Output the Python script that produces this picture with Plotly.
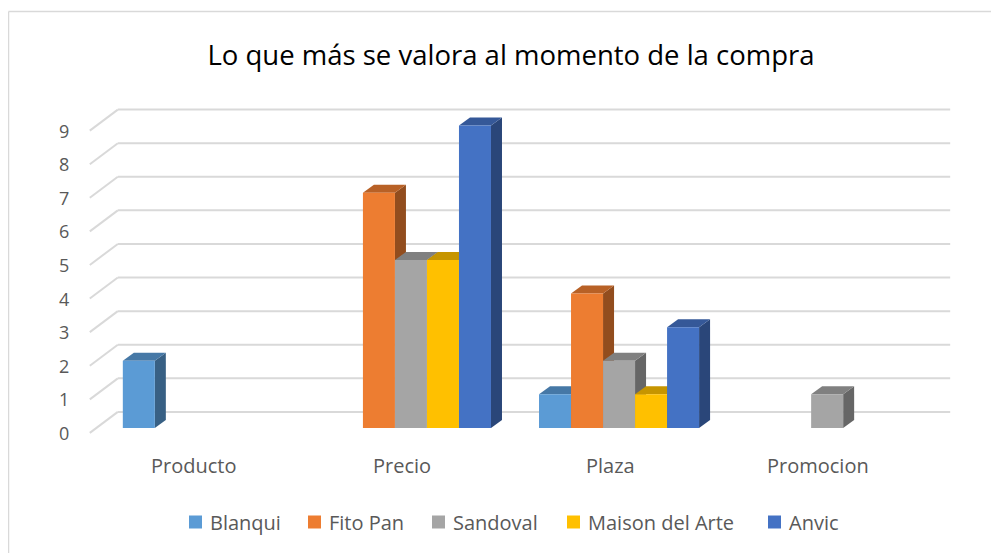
import plotly.graph_objects as go

categories = ["Producto", "Precio", "Plaza", "Promocion"]
series_names = ["Blanqui", "Fito Pan", "Sandoval", "Maison del Arte", "Anvic"]
blanqui = [2, None, 1, None]
fito_pan = [None, 7, 4, None]
sandoval = [None, 5, 2, 1]
maison = [None, 5, 1, None]
anvic = [None, 9, 3, None]
y_ticks = [0, 1, 2, 3, 4, 5, 6, 7, 8, 9]

series_values = [blanqui, fito_pan, sandoval, maison, anvic]
colors = ["#5B9BD5", "#ED7D31", "#A5A5A5", "#FFC000", "#4472C4"]


def shade(hex_color, f):
    h = hex_color.lstrip("#")
    r, g, b = (int(h[i:i + 2], 16) for i in (0, 2, 4))
    return "rgb(%d,%d,%d)" % (r * f, g * f, b * f)


OFF = 8                      # page body margin
W, H = 1000, 553
L, PW = 70, 874
T, PH = 84, 346
R = W - L - PW
B = H - T - PH
x_min, x_max = -0.6, 3.6
y_min, y_max = -0.3, 10.0
px_x = PW / (x_max - x_min)
px_y = PH / (y_max - y_min)


def xp(sx):
    return (sx - OFF - L) / PW


def yp(sy):
    return 1 - (sy - OFF - T) / PH


bargap = 0.2308
bw = (1 - bargap) / 5
dx_bar, dy_bar = 11 / px_x, 8 / px_y
dx_wall, dy_wall = 28 / px_x, 21 / px_y
front_off_x, front_off_y = -9 / px_x, -5 / px_y

fig = go.Figure()
for name, vals, col in zip(series_names, series_values, colors):
    fig.add_trace(go.Bar(
        name=name, x=list(range(len(categories))), y=vals,
        marker=dict(color=col, line=dict(width=0)), showlegend=False,
    ))

shapes = []
annotations = []
grid_col = "#D9D9D9"
x_left_front = -0.5 + front_off_x
x_left_back = x_left_front + dx_wall
x_right_back = 3.5 + front_off_x + dx_wall
for v in y_ticks:
    yf = v + front_off_y
    yb = yf + dy_wall
    shapes.append(dict(type="line", xref="x", yref="y", x0=x_left_back, x1=x_right_back,
                       y0=yb, y1=yb, line=dict(color=grid_col, width=2), layer="below"))
    shapes.append(dict(type="line", xref="x", yref="y", x0=x_left_front, x1=x_left_back,
                       y0=yf, y1=yb, line=dict(color=grid_col, width=2), layer="below"))
    annotations.append(dict(text=str(v), xref="paper", yref="y", x=xp(64), y=yf,
                            xanchor="center", yanchor="middle", showarrow=False,
                            font=dict(family="Open Sans", size=18, color="#595959")))

# 3D top and side faces
for ci in range(len(categories)):
    for si, (vals, col) in enumerate(zip(series_values, colors)):
        v = vals[ci]
        if not v:
            continue
        x0 = ci - (1 - bargap) / 2 + si * bw
        x1 = x0 + bw
        top = "M %f,%f L %f,%f L %f,%f L %f,%f Z" % (
            x0, v, x1, v, x1 + dx_bar, v + dy_bar, x0 + dx_bar, v + dy_bar)
        side = "M %f,%f L %f,%f L %f,%f L %f,%f Z" % (
            x1, 0, x1 + dx_bar, dy_bar, x1 + dx_bar, v + dy_bar, x1, v)
        shapes.append(dict(type="path", xref="x", yref="y", path=side,
                           fillcolor=shade(col, 0.62), line=dict(width=0), layer="below"))
        shapes.append(dict(type="path", xref="x", yref="y", path=top,
                           fillcolor=shade(col, 0.78), line=dict(width=0), layer="below"))

# category labels
for ci, cat in enumerate(categories):
    annotations.append(dict(text=cat, xref="x", yref="paper", x=ci + front_off_x, y=yp(465),
                            xanchor="center", yanchor="middle", showarrow=False,
                            font=dict(family="Open Sans", size=20, color="#595959")))

# legend (manual)
legend_sq_x = [189, 308, 432, 567, 768]
for name, col, sx in zip(series_names, colors, legend_sq_x):
    shapes.append(dict(type="rect", xref="paper", yref="paper",
                       x0=xp(sx), x1=xp(sx + 13), y0=yp(528.5), y1=yp(515.5),
                       fillcolor=col, line=dict(width=0)))
    annotations.append(dict(text=name, xref="paper", yref="paper", x=xp(sx + 19), y=yp(522),
                            xanchor="left", yanchor="middle", showarrow=False,
                            font=dict(family="Open Sans", size=20, color="#595959")))

# chart border (left and top edges visible in the frame)
shapes.append(dict(type="line", xref="paper", yref="paper",
                   x0=xp(8.5), x1=xp(8.5), y0=yp(560), y1=yp(11.5),
                   line=dict(color="#D9D9D9", width=1.5), layer="below"))
shapes.append(dict(type="line", xref="paper", yref="paper",
                   x0=xp(8.5), x1=xp(1010), y0=yp(11.5), y1=yp(11.5),
                   line=dict(color="#D9D9D9", width=1.5), layer="below"))

fig.update_layout(
    width=W, height=H,
    margin=dict(l=L, r=R, t=T, b=B, pad=0),
    paper_bgcolor="white", plot_bgcolor="white",
    barmode="group", bargap=bargap, bargroupgap=0,
    shapes=shapes, annotations=annotations,
    title=dict(text="Lo que más se valora al momento de la compra",
               xref="container", yref="container",
               x=(511 - OFF) / W, xanchor="center", y=1 - (55 - OFF) / H, yanchor="middle",
               font=dict(family="Open Sans", size=27.5, color="#000000")),
    font=dict(family="Open Sans", color="#595959"),
    showlegend=False,
    xaxis=dict(range=[x_min, x_max], showticklabels=False, showgrid=False,
               zeroline=False, showline=False, ticks=""),
    yaxis=dict(range=[y_min, y_max], showticklabels=False, showgrid=False,
               zeroline=False, showline=False, ticks=""),
)
fig.write_html("out.html")
